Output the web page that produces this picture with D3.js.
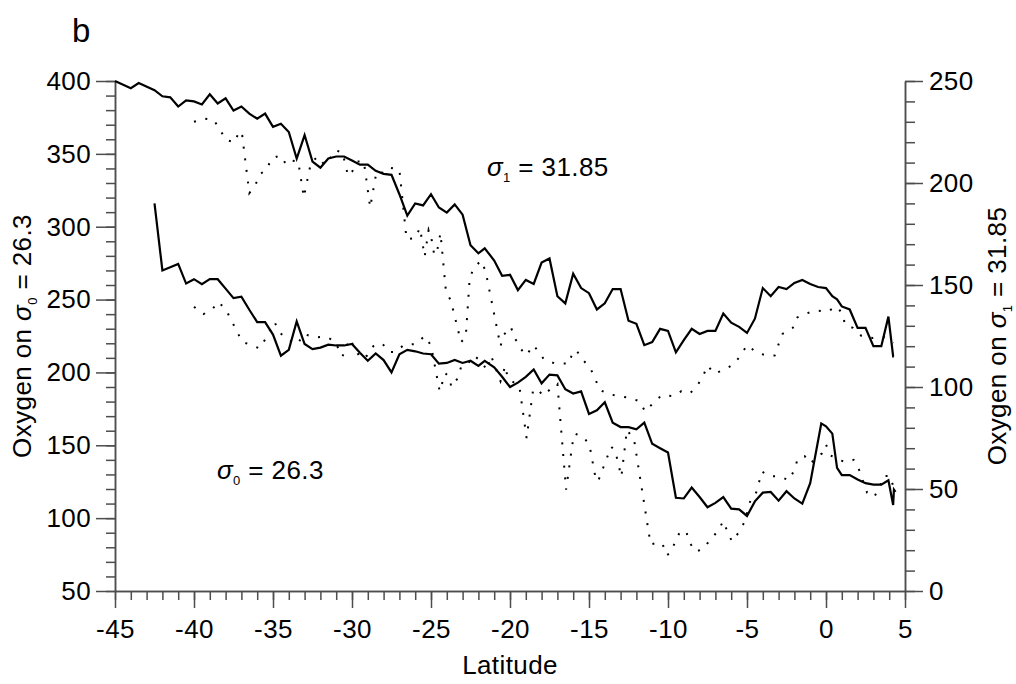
<!DOCTYPE html>
<html>
<head>
<meta charset="utf-8">
<script src="https://cdn.jsdelivr.net/npm/d3@7"></script>
<style>
  body { margin: 0; background: #fff; }
  text { font-family: "Liberation Sans", Arial, sans-serif; fill: #000; }
</style>
</head>
<body>
<svg id="chart" width="1016" height="684"></svg>
<script>
// latitude / oxygen pairs
// sigma1 = 31.85 (right axis)
const sigma1Solid = [[-45,250],[-44,246.5],[-43.5,249],[-42.5,245.5],[-42,242.5],[-41.5,242],[-41,237.5],[-40.5,240.5],[-40,240],[-39.5,238.5],[-39,243.5],[-38.5,239],[-38,241.5],[-37.5,235.5],[-37,237.5],[-36.5,234],[-36,231.5],[-35.5,234],[-35,227.5],[-34.5,229],[-34,225],[-33.5,212],[-33,223.5],[-32.5,210.5],[-32,207.5],[-31.5,212],[-31,213],[-30.5,213],[-30,211],[-29.5,209],[-29,209],[-28.5,206],[-28,204.5],[-27.5,204],[-27,194.5],[-26.5,184],[-26,190],[-25.5,189],[-25,194.5],[-24.5,188],[-24,185.5],[-23.5,189.5],[-23,184.5],[-22.5,169.5],[-22,165.5],[-21.6,168],[-21,162],[-20.5,154.5],[-20,155],[-19.5,147.5],[-19,152.5],[-18.5,150.5],[-18,161],[-17.5,163],[-17,144.5],[-16.5,141],[-16,155.5],[-15.5,148.5],[-15,146],[-14.5,138],[-14,141],[-13.5,148],[-13,148],[-12.5,132.5],[-12,131],[-11.5,120.5],[-11,122],[-10.5,128.5],[-10,127.5],[-9.5,117],[-9,123],[-8.5,128.5],[-8,126],[-7.5,127.5],[-7,127.5],[-6.5,136],[-6,131.5],[-5.5,129.5],[-5,126.5],[-4.5,133.5],[-4,148.5],[-3.5,144.5],[-3,149],[-2.5,148],[-2,151],[-1.5,152.5],[-1,150.5],[-0.5,149],[0,148.5],[0.4,144.5],[0.7,143],[1,139.5],[1.5,138],[2,129],[2.5,129],[3,120],[3.5,120],[3.95,134.5],[4.25,115],[4.3,115]];

const sigma1Dotted = [[-40,230],[-39.3,231.5],[-38.75,231],[-38.35,226],[-37.95,221],[-37.4,220],[-37.15,225.5],[-36.95,223.5],[-36.5,195],[-36.15,198.5],[-35.8,204.5],[-35.4,206.5],[-35.1,212],[-34.55,213.5],[-34.15,209],[-33.8,211],[-33.4,210.5],[-33.05,193],[-32.6,210],[-32.15,213],[-31.75,209],[-31.45,211.5],[-31.05,216],[-30.6,215],[-30.25,203.5],[-30,205.5],[-29.65,210.5],[-29.25,210.5],[-28.85,188],[-28.45,205.5],[-28,205],[-27.6,207.5],[-27,206.5],[-26.55,172.5],[-26,173],[-25.7,178],[-25.4,164],[-25.15,177],[-25,174],[-24.8,165],[-24.65,165],[-24.4,175.5],[-24.05,146.5],[-23.75,142.5],[-23.1,122],[-22.8,124.5],[-22.55,153.5],[-22.3,158],[-21.85,162],[-21.55,157],[-20.6,120],[-20.4,125.5],[-19.95,129.5],[-19.7,124],[-19.3,118.5],[-18.95,115.5],[-18.55,120.5],[-18.25,118],[-17.85,113.5],[-17.15,111.5],[-16.25,111.5],[-16.05,117],[-15.8,118],[-15.4,113.5],[-14.9,109],[-14.3,98.5],[-13.75,96.5],[-13.05,95.5],[-12.35,94.5],[-11.8,93],[-11.45,88],[-10.95,92],[-10.4,96],[-9.7,95.5],[-9.15,98],[-8.6,97],[-8.2,100],[-7.8,105],[-7.5,110.5],[-7.05,106.5],[-6.45,108.5],[-5.85,111],[-5.4,115.5],[-5,120.5],[-4.4,117],[-3.8,115.5],[-3.25,115.5],[-3,121],[-2.75,126],[-2.1,129],[-1.85,134],[-1.25,136],[-0.65,137.5],[0.1,137],[0.65,139.5],[1.05,136],[1.2,130.5],[1.7,129],[2.25,125],[2.95,124],[3.65,124.5],[4.25,121.5]];

// sigma0 = 26.3 (left axis)
const sigma0Solid = [[-42.5,316],[-42,270],[-41,274.5],[-40.5,261],[-40,264],[-39.5,260.5],[-39,264],[-38.5,264],[-38,257.5],[-37.5,251],[-37,252],[-36.5,243],[-36,234.5],[-35.5,234.5],[-35,226],[-34.5,211.5],[-34,215.5],[-33.5,235],[-33,219.5],[-32.5,216],[-32,217],[-31.5,219],[-31,218.5],[-30.5,218.5],[-30,219.5],[-29.5,213.5],[-29,208],[-28.5,213],[-28,208.5],[-27.5,200],[-27,212.5],[-26.5,215.5],[-26,214.5],[-25.5,213],[-25,212.5],[-24.5,206],[-24,206.5],[-23.5,208.5],[-23,206.5],[-22.5,208],[-22,204.5],[-21.6,208],[-21,203.5],[-20.5,197],[-20,190],[-19.5,193],[-19,197],[-18.5,202],[-18,192.5],[-17.5,198.5],[-17,198],[-16.5,188.5],[-16,185.5],[-15.5,187],[-15,171.5],[-14.5,174],[-14,179.5],[-13.5,165.5],[-13,162.5],[-12.5,162.5],[-12,161],[-11.5,165.5],[-11,151],[-10.5,148],[-10,145],[-9.5,114],[-9,113.5],[-8.5,121],[-8,114.5],[-7.5,107.5],[-7,110.5],[-6.5,114.5],[-6,106.5],[-5.5,106],[-5,101.5],[-4.5,111.5],[-4,117.5],[-3.5,118],[-3,112],[-2.5,118.5],[-2,113.5],[-1.5,110],[-1,124],[-0.3,165],[0,163],[0.4,158],[0.7,134.5],[1,129.5],[1.5,129.5],[2,126.5],[2.5,124],[3,123],[3.5,123],[3.95,126],[4.25,109],[4.3,119.5],[4.4,118]];

const sigma0Dotted = [[-40,245],[-39.4,240],[-38.8,244],[-38.45,248.5],[-37.95,242.5],[-36.95,221],[-36.3,218.5],[-35.85,216.5],[-35.45,223.5],[-34.9,234.5],[-34.6,227.5],[-34.05,222.5],[-33.45,219.5],[-33.05,226.5],[-32.4,224],[-31.65,224.5],[-31.1,221.5],[-30.6,211],[-30.15,223],[-29.45,209.5],[-29.05,211.5],[-28.65,218],[-28.1,220],[-27.65,214],[-27.25,214],[-26.7,219],[-25.95,219.5],[-25.4,225],[-25,218.5],[-24.45,187],[-24.1,199.5],[-23.9,197.5],[-23.7,190],[-23.35,195.5],[-23.1,203.5],[-22.75,204.5],[-22.3,211.5],[-21.85,208],[-21.45,201.5],[-21.2,211.5],[-20.6,194],[-20.3,204.5],[-20.15,196.5],[-19.4,190],[-18.95,155],[-18.55,187],[-18.3,189],[-17.9,184],[-17.35,189.5],[-17,192],[-16.45,119.5],[-16.05,151],[-15.9,158],[-15.3,155.5],[-14.95,149],[-14.55,125.5],[-14.4,126],[-13.6,149],[-13.35,146.5],[-12.95,128.5],[-12.6,160.5],[-12.15,154],[-11.1,82],[-10.7,83],[-10.35,82.5],[-10.1,74.5],[-9.85,76],[-9.55,83.5],[-9.25,90.5],[-8.85,91],[-8.65,83.5],[-8.25,77],[-7.75,79],[-7.35,85],[-6.85,91],[-6.5,98],[-6.25,91],[-5.95,84],[-5.5,90.5],[-5.15,97.5],[-4.75,113.5],[-4.45,116.5],[-4.05,132],[-3.65,129],[-2.9,128.5],[-2.35,126],[-2,133],[-1.8,140.5],[-1.35,142.5],[-1,137.5],[-0.25,144.5],[0,150.5],[0.3,143],[0.8,140],[1.25,138.5],[1.75,140],[2.1,133],[2.6,117.5],[3.05,114.5],[3.4,121.5],[3.65,129],[4.05,129],[4.35,118.5]];

// ticks
const latTicks = d3.range(-45, 6, 5);
const latMinor = d3.range(-45, 6, 1);
const leftTicks = d3.range(50, 401, 50);
const leftMinor = d3.range(50, 401, 10);
const rightTicks = d3.range(0, 251, 50);
const rightMinor = d3.range(0, 251, 10);

const svg = d3.select("#chart");
const margin = { top: 81, right: 111, bottom: 93, left: 115 };
const width = 1016, height = 684;
const axisColor = "#4d4d4d";
const fs = 26;

// scales
const x = d3.scaleLinear().domain([-45, 5]).range([margin.left, width - margin.right]);
const yL = d3.scaleLinear().domain([50, 400]).range([height - margin.bottom, margin.top]);
const yR = d3.scaleLinear().domain([0, 250]).range([height - margin.bottom, margin.top]);

// axes (minor first, majors drawn on top)
function styleAxis(g) {
  g.selectAll("path, line").attr("stroke", axisColor).attr("stroke-width", 1.5);
  g.selectAll("text").attr("font-size", fs).attr("fill", "#000")
    .attr("letter-spacing", 0.4)
    .attr("font-family", "Liberation Sans, Arial, sans-serif");
}
const plain = d => String(d); // hyphen minus like the original

svg.append("g").attr("transform", `translate(${margin.left},0)`)
  .call(d3.axisLeft(yL).tickValues(leftMinor).tickSize(9).tickFormat("").tickSizeOuter(0))
  .call(styleAxis);
svg.append("g").attr("transform", `translate(${margin.left},0)`)
  .call(d3.axisLeft(yL).tickValues(leftTicks).tickSize(19).tickPadding(5).tickFormat(plain).tickSizeOuter(0))
  .call(styleAxis);

svg.append("g").attr("transform", `translate(${width - margin.right},0)`)
  .call(d3.axisRight(yR).tickValues(rightMinor).tickSize(10).tickFormat("").tickSizeOuter(0))
  .call(styleAxis);
svg.append("g").attr("transform", `translate(${width - margin.right},0)`)
  .call(d3.axisRight(yR).tickValues(rightTicks).tickSize(18).tickPadding(6).tickFormat(plain).tickSizeOuter(0))
  .call(styleAxis);

svg.append("g").attr("transform", `translate(0,${height - margin.bottom})`)
  .call(d3.axisBottom(x).tickValues(latMinor).tickSize(9).tickFormat("").tickSizeOuter(0))
  .call(styleAxis);
svg.append("g").attr("transform", `translate(0,${height - margin.bottom})`)
  .call(d3.axisBottom(x).tickValues(latTicks).tickSize(17).tickPadding(12).tickFormat(plain).tickSizeOuter(0))
  .call(styleAxis);

// lines
const lineL = d3.line().x(d => x(d[0])).y(d => yL(d[1]));
const lineR = d3.line().x(d => x(d[0])).y(d => yR(d[1]));

function drawLine(data, gen, dotted) {
  const p = svg.append("path").datum(data)
    .attr("d", gen)
    .attr("fill", "none")
    .attr("stroke", "#000");
  if (dotted) {
    p.attr("stroke-width", 2).attr("stroke-dasharray", "2,9.7");
  } else {
    p.attr("stroke-width", 2.2).attr("stroke-linejoin", "miter");
  }
}

drawLine(sigma1Dotted, lineR, true);
drawLine(sigma0Dotted, lineL, true);
drawLine(sigma1Solid, lineR, false);
drawLine(sigma0Solid, lineL, false);

// labels
function sigmaText(parent, sub, rest) {
  parent.append("tspan").attr("font-style", "italic").text("σ");
  parent.append("tspan").attr("font-size", 13).attr("dy", 6).text(sub);
  parent.append("tspan").attr("dy", -6).text(rest);
}

const lab1 = svg.append("text").attr("x", 487).attr("y", 176)
  .attr("font-size", fs).attr("letter-spacing", 0.4);
sigmaText(lab1, "1", " = 31.85");

const lab0 = svg.append("text").attr("x", 217).attr("y", 479)
  .attr("font-size", fs).attr("letter-spacing", 0.4);
sigmaText(lab0, "0", " = 26.3");

const midY = (margin.top + height - margin.bottom) / 2;

const yLabelL = svg.append("text")
  .attr("transform", `translate(31,${midY}) rotate(-90)`)
  .attr("text-anchor", "middle").attr("font-size", fs).attr("letter-spacing", 0.4);
yLabelL.append("tspan").text("Oxygen on ");
sigmaText(yLabelL, "0", " = 26.3");

const yLabelR = svg.append("text")
  .attr("transform", `translate(1006,${midY}) rotate(-90)`)
  .attr("text-anchor", "middle").attr("font-size", fs).attr("letter-spacing", 0.4);
yLabelR.append("tspan").text("Oxygen on ");
sigmaText(yLabelR, "1", " = 31.85");

svg.append("text")
  .attr("x", (margin.left + width - margin.right) / 2)
  .attr("y", 674)
  .attr("text-anchor", "middle")
  .attr("font-size", fs)
  .attr("letter-spacing", 0.4)
  .text("Latitude");

svg.append("text").attr("x", 72).attr("y", 42).attr("font-size", 33).text("b");
</script>
</body>
</html>
